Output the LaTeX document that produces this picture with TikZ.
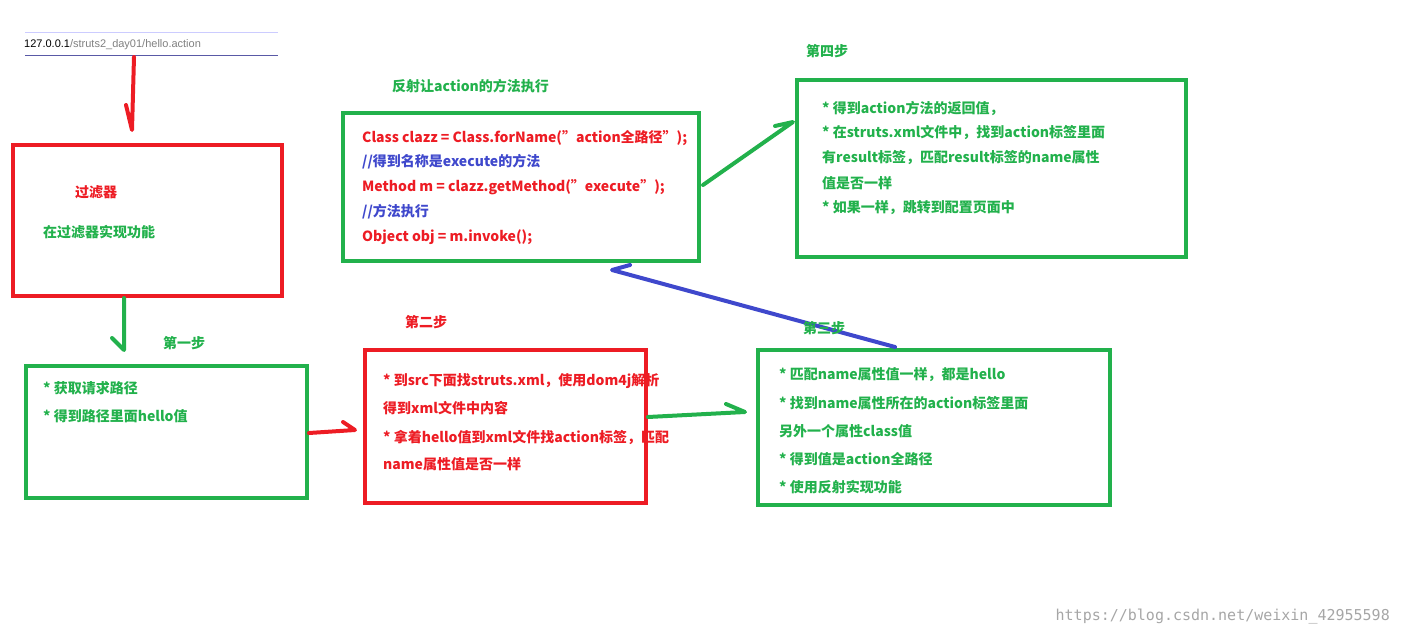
\documentclass[tikz,border=0pt]{standalone}
\usepackage{fontspec}
\setmainfont{Noto Sans CJK SC}
\newfontfamily\cjkb{Noto Sans CJK SC}[BoldFont=* Bold]
\newfontfamily\urlf{Liberation Sans}
\newfontfamily\wmf{DejaVu Sans Mono}
\definecolor{gr}{RGB}{34,177,76}
\definecolor{rd}{RGB}{237,28,36}
\definecolor{bl}{RGB}{63,72,204}
\begin{document}
\begin{tikzpicture}[x=1pt,y=-1pt,
  box/.style={line width=4pt},
  arr/.style={line width=4pt,line cap=round,line join=round},
  t/.style={anchor=west,inner sep=0pt,font=\fontsize{14}{16}\selectfont\bfseries},
]
\useasboundingbox (0,0) rectangle (1401,637);
% url bar
\draw[color=blue!20,line width=1pt] (25,32) -- (278,32);
\draw[color=blue!30!gray,line width=1pt] (25,55) -- (278,55);
\node[anchor=west,inner sep=0pt,font=\urlf\fontsize{11}{12}\selectfont] (url) at (24,45) {127.0.0.1\textcolor{gray}{/struts2\_day01/hello.action}};
% boxes
\draw[box,rd] (13,145) rectangle (282,296);
\draw[box,gr] (26,366) rectangle (307,498);
\draw[box,rd] (365,350) rectangle (646,503);
\draw[box,gr] (758,350) rectangle (1110,505);
\draw[box,gr] (343,113) rectangle (699,261);
\draw[box,gr] (797,80) rectangle (1186,257);
% arrows
\coordinate (a1) at (134,57); \coordinate (a2) at (132,130);
\draw[arr,rd] (a1) -- (a2) -- (126,105);
\coordinate (b1) at (124,298); \coordinate (b2) at (124,350);
\draw[arr,gr] (b1) -- (b2) -- (112,338);
\coordinate (c1) at (309,433); \coordinate (c2) at (355,430);
\draw[arr,rd] (c1) -- (c2) -- (343,422);
\coordinate (d1) at (648,417); \coordinate (d2) at (745,412);
\draw[arr,gr] (d1) -- (d2) -- (726,404);
\coordinate (e1) at (895,347); \coordinate (e2) at (612,270);
\draw[arr,bl] (e1) -- (e2) -- (630,265);
\coordinate (f1) at (703,185); \coordinate (f2) at (793,122);
\draw[arr,gr] (f1) -- (f2) -- (775,126);
% filter
\node[t,rd] (fl) at (75,192) {过滤器};
\node[t,gr] (fl2) at (43,232) {在过滤器实现功能};
% code
\node[t,gr] (lr) at (392,86) {反射让action的方法执行};
\node[t,rd] (c1t) at (362,138) {Class clazz = Class.forName("action全路径");};
\node[t,bl] (c2t) at (362,162) {//得到名称是execute的方法};
\node[t,rd] (c3t) at (362,187) {Method m = clazz.getMethod("execute");};
\node[t,bl] (c4t) at (362,212) {//方法执行};
\node[t,rd] (c5t) at (362,237) {Object obj = m.invoke();};
% step4
\node[t,gr] (l4) at (806,51) {第四步};
\node[t,gr] (s41) at (822,108) {* 得到action方法的返回值，};
\node[t,gr] (s42) at (822,133) {* 在struts.xml文件中，找到action标签里面};
\node[t,gr] (s43) at (822,158) {有result标签，匹配result标签的name属性};
\node[t,gr] (s44) at (822,183) {值是否一样};
\node[t,gr] (s45) at (822,208) {* 如果一样，跳转到配置页面中};
% step1
\node[t,gr] (l1) at (163,343) {第一步};
\node[t,gr] (s11) at (43,388) {* 获取请求路径};
\node[t,gr] (s12) at (43,416) {* 得到路径里面hello值};
% step2
\node[t,rd] (l2) at (405,322) {第二步};
\node[t,rd] (s21) at (383,381) {* 到src下面找struts.xml，使用dom4j解析};
\node[t,rd] (s22) at (383,408) {得到xml文件中内容};
\node[t,rd] (s23) at (383,437) {* 拿着hello值到xml文件找action标签，匹配};
\node[t,rd] (s24) at (383,464) {name属性值是否一样};
% step3
\node[t,gr] (l3) at (803,328) {第三步};
\node[t,gr] (s31) at (779,375) {* 匹配name属性值一样，都是hello};
\node[t,gr] (s32) at (779,403) {* 找到name属性所在的action标签里面};
\node[t,gr] (s33) at (779,431) {另外一个属性class值};
\node[t,gr] (s34) at (779,459) {* 得到值是action全路径};
\node[t,gr] (s35) at (779,487) {* 使用反射实现功能};
% watermark
\node[anchor=east,inner sep=0pt,font=\wmf\fontsize{15}{16}\selectfont,color=gray!70] (wm) at (1390,617) {https://blog.csdn.net/weixin\_42955598};
\end{tikzpicture}
\end{document}
